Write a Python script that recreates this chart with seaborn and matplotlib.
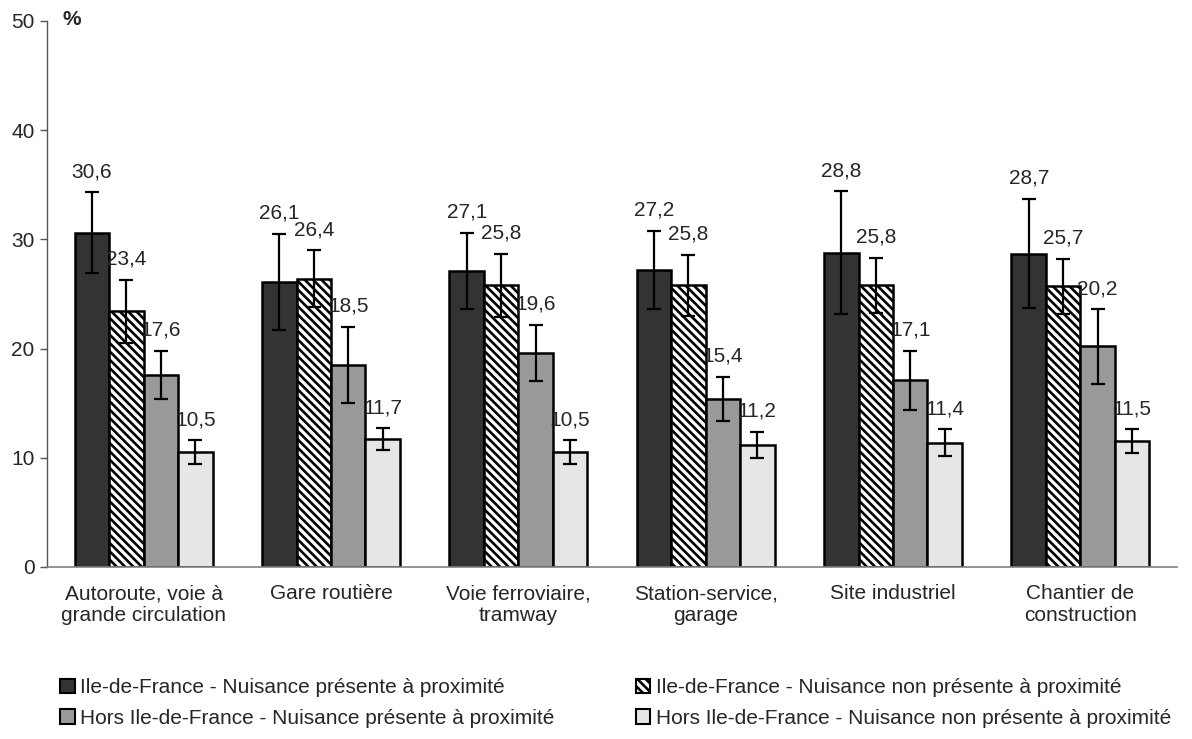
import numpy as np
import pandas as pd
import seaborn as sns
import matplotlib.pyplot as plt
from matplotlib.patches import Patch

# Data
categories = ['Autoroute, voie à\ngrande circulation', 'Gare routière', 'Voie ferroviaire,\ntramway',
              'Station-service,\ngarage', 'Site industriel', 'Chantier de\nconstruction']
series = ['Ile-de-France - Nuisance présente à proximité',
          'Ile-de-France - Nuisance non présente à proximité',
          'Hors Ile-de-France - Nuisance présente à proximité',
          'Hors Ile-de-France - Nuisance non présente à proximité']

idf_presente = [30.6, 26.1, 27.1, 27.2, 28.8, 28.7]
idf_non_presente = [23.4, 26.4, 25.8, 25.8, 25.8, 25.7]
hors_presente = [17.6, 18.5, 19.6, 15.4, 17.1, 20.2]
hors_non_presente = [10.5, 11.7, 10.5, 11.2, 11.4, 11.5]

# half-width of the confidence intervals
err_idf_presente = [3.7, 4.4, 3.5, 3.6, 5.6, 5.0]
err_idf_non_presente = [2.9, 2.6, 2.9, 2.8, 2.5, 2.5]
err_hors_presente = [2.2, 3.5, 2.6, 2.0, 2.7, 3.4]
err_hors_non_presente = [1.1, 1.0, 1.1, 1.2, 1.2, 1.1]

values = [idf_presente, idf_non_presente, hors_presente, hors_non_presente]
errors = [err_idf_presente, err_idf_non_presente, err_hors_presente, err_hors_non_presente]

colors = ['#333333', '#ffffff', '#999999', '#e6e6e6']
hatches = [None, '\\\\\\\\', None, None]

df = pd.DataFrame({
    'categorie': np.tile(categories, len(series)),
    'serie': np.repeat(series, len(categories)),
    'valeur': np.concatenate(values),
})

sns.set_style('white')
plt.rcParams['font.family'] = ['Liberation Sans', 'DejaVu Sans']
plt.rcParams['hatch.linewidth'] = 1.9

fig = plt.figure(figsize=(11.92, 7.39), dpi=100)
ax = fig.add_axes([47 / 1192, 1 - 567 / 739, (1177 - 47) / 1192, (567 - 21) / 739])

sns.barplot(data=df, x='categorie', y='valeur', hue='serie', order=categories, hue_order=series,
            palette=colors, width=0.735, edgecolor='black', linewidth=1.8,
            errorbar=None, legend=False, ax=ax)

# hatching, error bars and value labels
bar_containers = list(ax.containers)
for i, cont in enumerate(bar_containers):
    xs = []
    for p in cont.patches:
        if hatches[i]:
            p.set_hatch(hatches[i])
        xs.append(p.get_x() + p.get_width() / 2)
    ax.errorbar(xs, values[i], yerr=errors[i], fmt='none', ecolor='black',
                elinewidth=1.6, capsize=5.3, capthick=1.6, zorder=5)
    for x, v, e in zip(xs, values[i], errors[i]):
        ax.annotate(f'{v:.1f}'.replace('.', ','), (x, v + e), xytext=(0, 8),
                    textcoords='offset points', ha='center', va='bottom', fontsize=15)

ax.set_xlim(-0.516, 5.516)
ax.set_ylim(0, 50)
ax.set_yticks(range(0, 51, 10))
ax.set_xlabel('')
ax.set_ylabel('')
ax.tick_params(axis='y', left=True, length=5, width=1, labelsize=15, pad=4, color='#555555')
ax.tick_params(axis='x', bottom=False, labelsize=15, pad=9)
for s in ['top', 'right']:
    ax.spines[s].set_visible(False)
ax.spines['left'].set_color('#555555')
ax.spines['bottom'].set_color('#808080')
ax.spines['left'].set_linewidth(1)
ax.spines['bottom'].set_linewidth(1.2)

ax.text(0.014, 1.003, '%', transform=ax.transAxes, fontsize=15, fontweight='bold',
        ha='left', va='center')

handles = [Patch(facecolor=colors[k], edgecolor='black', hatch=hatches[k], linewidth=1.5,
                 label=series[k]) for k in range(4)]
order = [0, 2, 1, 3]
fig.legend([handles[k] for k in order], [series[k] for k in order], ncol=2,
           loc='upper left', bbox_to_anchor=(52 / 1192, 1 - 670 / 739), frameon=False,
           fontsize=15, handlelength=0.7, handleheight=0.7, handletextpad=0.25,
           columnspacing=3.9, labelspacing=0.55, borderaxespad=0)

fig.savefig('out.png', dpi=100)
